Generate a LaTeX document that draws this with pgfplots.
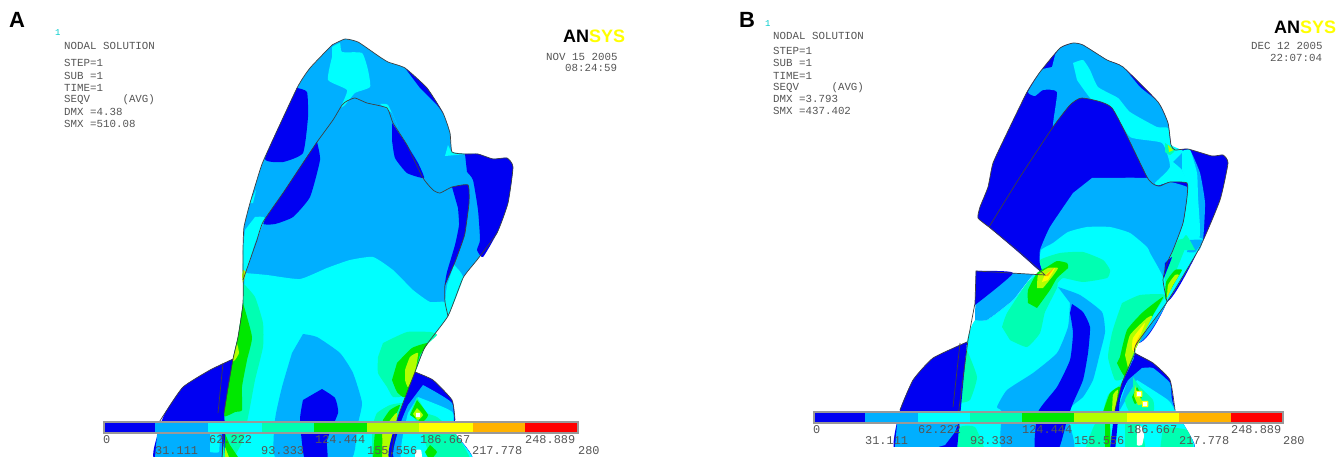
\documentclass[border=0pt]{standalone}
\usepackage{fontspec}
\setmainfont{Liberation Sans}
\newfontfamily\mono{Liberation Mono}
\usepackage{pgfplots}
\pgfplotsset{compat=1.18}
\definecolor{c0}{RGB}{0,0,242}
\definecolor{c1}{RGB}{0,175,255}
\definecolor{c2}{RGB}{0,255,255}
\definecolor{c3}{RGB}{0,255,178}
\definecolor{c4}{RGB}{0,232,0}
\definecolor{c5}{RGB}{178,255,0}
\definecolor{c6}{RGB}{255,255,0}
\definecolor{c7}{RGB}{255,178,0}
\definecolor{c8}{RGB}{255,0,0}
\definecolor{txt}{RGB}{85,85,85}
\newcommand{\R}[2]{\addplot[fill=#1,draw=none,forget plot,smooth,tension=0.3] coordinates {#2} -- cycle;}
\newcommand{\Q}[2]{\addplot[fill=#1,draw=none,forget plot] coordinates {#2} -- cycle;}
\newcommand{\Ln}[1]{\addplot[draw=black!75,line width=0.7pt,forget plot,smooth,tension=0.3] coordinates {#1};}
\newcommand{\T}[3]{\node[anchor=west,inner sep=0pt,text=txt,font=\mono\fontsize{10.8}{12}\selectfont] at (axis cs:#1,#2) {#3};}
\newcommand{\B}[3]{\node[anchor=west,inner sep=0pt,text=txt,font=\mono\fontsize{11.9}{12}\selectfont] at (axis cs:#1,#2) {#3};}
\begin{document}
\begin{tikzpicture}
\useasboundingbox (0,0) rectangle (1338pt,460pt);
\begin{axis}[scale only axis,width=1338pt,height=460pt,xmin=0,xmax=1338,ymin=0,ymax=460,y dir=reverse,axis lines=none,clip=true]
% ===== PANEL A =====
\R{c1}{(332,45)(345,39)(358,42)(377,55)(388,62)(405,68)(427,88)(443,113)(450,133)(452,152)(465,154)(478,154)(493,159)(507,158)(513,167)(508,203)(497,233)(477,260)(463,278)(448,316)(425,347)(415,372)(390,460)(222,460)(233,359)(238,337)(243,303)(243,250)(244,227)(250,203)(260,170)(265,157)(297,88)(310,68)}
% crown blue zones
\R{c0}{(297,88)(307,92)(308,117)(303,153)(283,162)(265,159)(282,120)}
\R{c0}{(405,68)(427,88)(443,113)(437,105)(420,88)}
\R{c0}{(317,142)(320,160)(310,197)(293,217)(275,224)(263,223)(283,193)(300,167)}
\R{c0}{(392,123)(407,145)(418,163)(424,178)(407,173)(395,158)(392,140)}
\R{c0}{(452,187)(468,185)(469,203)(465,233)(462,243)(455,262)(445,285)(447,272)(455,245)(459,225)(458,208)}
\R{c0}{(465,154)(478,154)(493,159)(507,158)(513,167)(508,203)(497,233)(483,257)(477,250)(480,240)(478,210)(473,180)(467,172)}
% crown cyan zones
\R{c2}{(332,47)(340,43)(342,52)(362,53)(368,70)(370,87)(355,93)(345,105)(341,107)(347,90)(328,80)(332,57)}
\R{c2}{(380,104)(388,105)(398,127)(392,113)}
\R{c2}{(448,145)(452,152)(465,154)(445,156)}
\R{c2}{(255,217)(265,218)(255,243)(250,260)(243,280)(243,250)(245,230)}
\R{c2}{(250,203)(256,190)(253,203)}
\R{c2}{(454,265)(463,278)(448,316)(445,302)(447,285)}
% neck
\R{c2}{(245,273)(267,275)(300,279)(327,268)(350,260)(373,257)(393,270)(413,290)(430,302)(445,302)(448,316)(425,347)(415,373)(398,417)(390,460)(222,460)(224,413)(228,387)(233,359)(238,337)(243,303)}
\R{c3}{(243,283)(255,297)(263,323)(263,347)(255,380)(250,407)(243,440)(232,460)(222,460)(224,413)(228,387)(233,359)(238,337)(243,303)}
\R{c4}{(243,303)(252,337)(247,360)(242,387)(242,410)(235,412)(224,416)(228,387)(233,359)(238,337)}
\R{c5}{(237,343)(239,353)(235,360)(232,362)}
\R{c5}{(243,270)(246,272)(243,283)(242,275)}
\R{c4}{(222,460)(224,433)(230,445)(240,460)}
\R{c5}{(223,460)(224,445)(230,460)}
% neck lobes
\R{c1}{(303,334)(317,337)(340,353)(353,373)(362,403)(357,427)(350,460)(277,460)(275,420)(282,387)(292,353)}
\R{c0}{(322,389)(335,398)(338,413)(327,440)(327,460)(305,460)(300,420)(303,400)}
% right stress zone
\R{c3}{(383,343)(407,332)(430,332)(437,335)(425,347)(415,372)(405,395)(393,397)(387,387)(378,373)(378,357)}
\R{c4}{(397,363)(412,348)(428,343)(420,355)(415,372)(405,397)(397,392)(392,380)}
\R{c5}{(405,370)(410,357)(418,353)(415,372)(408,387)(405,380)}
\R{c3}{(372,427)(377,413)(390,405)(403,403)(400,410)(390,460)(372,460)}
\R{c4}{(383,420)(390,410)(400,405)(393,420)(382,430)}
\R{c5}{(382,460)(382,433)(397,413)(390,460)}
\R{c4}{(373,460)(375,433)(382,433)(382,460)}
% shoulder left
\R{c0}{(233,359)(210,370)(183,387)(165,413)(158,433)(155,460)(222,460)(224,413)}
\Q{c1}{(155,457)(158,424)(222,424)(222,457)}
\R{c2}{(210,433)(219,433)(219,452)(210,452)}
\R{c3}{(222,460)(224,440)(225,460)}
% shoulder right
\R{c0}{(415,372)(433,380)(452,400)(455,420)(455,433)(472,460)(390,460)(398,417)}
\R{c1}{(423,385)(452,403)(455,433)(472,460)(395,460)(400,425)(408,405)}
\R{c2}{(418,397)(443,407)(453,413)(455,433)(472,460)(402,460)(408,413)}
\R{c3}{(417,397)(427,413)(437,417)(455,433)(470,460)(433,460)(420,427)(410,413)}
\R{c4}{(417,400)(428,415)(422,422)(410,415)}
\R{c5}{(417,408)(423,415)(418,420)(413,414)}
\R{white}{(416,413)(420,413)(420,417)(416,417)}
\R{white}{(415,450)(421,450)(422,460)(415,460)}
\R{c4}{(430,445)(437,452)(430,460)(425,452)}
% mask below the cut edge of panel A
\Q{white}{(140,457)(600,457)(600,460)(140,460)}
% outlines A
\Ln{(332,45)(345,39)(358,42)(377,55)(388,62)(405,68)(427,88)(443,113)(450,133)(452,152)(465,154)(478,154)(493,159)(507,158)(513,167)(508,203)(497,233)(477,260)(463,278)(448,316)(425,347)(415,372)}
\Ln{(332,45)(310,68)(297,88)(265,157)(260,170)(250,203)(244,227)(243,250)(243,303)(238,337)(233,359)(228,387)(224,413)}
\Ln{(233,359)(210,370)(183,387)(165,413)(158,424)}
\Ln{(415,372)(433,380)(452,400)(455,420)}
\Ln{(257,240)(263,222)(283,193)(303,163)(317,142)(333,120)(342,105)(347,101)(355,98)(367,103)(387,108)(393,123)(407,145)(423,178)(433,190)(440,193)(452,187)(468,185)(469,203)(465,233)(462,243)(455,262)(445,285)(445,302)(448,316)}
\Ln{(257,240)(250,260)(243,280)}
\Ln{(223,363)(218,413)}
\Ln{(222,457)(224,434)}
\Ln{(415,372)(398,417)(391,457)}
% colour bar A
\Q{black!40}{(103,421)(579,421)(579,434)(103,434)}
\Q{c0}{(105,423)(155,423)(155,432)(105,432)}
\Q{c1}{(155,423)(208,423)(208,432)(155,432)}
\Q{c2}{(208,423)(262,423)(262,432)(208,432)}
\Q{c3}{(262,423)(314,423)(314,432)(262,432)}
\Q{c4}{(314,423)(367,423)(367,432)(314,432)}
\Q{c5}{(367,423)(419,423)(419,432)(367,432)}
\Q{c6}{(419,423)(473,423)(473,432)(419,432)}
\Q{c7}{(473,423)(525,423)(525,432)(473,432)}
\Q{c8}{(525,423)(577,423)(577,432)(525,432)}
% ===== PANEL B =====
% crown
\R{c0}{(989,227)(978,218)(980,207)(988,187)(993,163)(1007,133)(1027,92)(1040,72)(1060,48)(1073,43)(1083,45)(1107,60)(1123,67)(1158,102)(1168,123)(1171,145)(1175,150)(1188,149)(1212,156)(1223,155)(1228,163)(1220,200)(1200,247)(1167,302)(1100,300)(1045,275)(1017,250)}
\R{c1}{(1055,55)(1060,48)(1073,43)(1083,45)(1107,60)(1123,67)(1140,87)(1158,102)(1168,123)(1171,145)(1183,151)(1190,150)(1200,173)(1205,203)(1203,240)(1197,250)(1187,183)(1170,182)(1155,185)(1147,177)(1112,108)(1082,98)(1070,105)(1053,127)(1057,92)(1043,90)(1035,96)(1028,92)(1040,72)(1043,69)(1052,67)}
\R{c2}{(1073,63)(1083,60)(1090,70)(1098,87)(1118,98)(1130,112)(1157,127)(1168,128)(1171,145)(1183,151)(1173,162)(1173,170)(1160,185)(1155,183)(1170,167)(1162,143)(1130,137)(1112,108)(1092,100)(1077,80)}
\R{c2}{(1173,162)(1182,170)(1187,183)(1170,182)(1160,185)}
\R{c2}{(1182,151)(1190,150)(1197,173)(1198,197)(1200,230)(1197,250)(1173,250)(1183,223)(1187,197)(1187,183)(1182,170)}
\R{c3}{(1165,143)(1175,150)(1170,155)(1165,152)}
\R{c5}{(1168,145)(1173,150)(1169,152)}
% body
\R{c0}{(989,227)(1020,177)(1053,127)(1070,105)(1082,98)(1112,108)(1147,177)(1155,185)(1160,186)(1170,182)(1187,183)(1187,197)(1183,223)(1173,250)(1167,263)(1163,280)(1167,302)(1137,343)(1045,275)}
\R{c1}{(1092,178)(1147,178)(1155,185)(1160,186)(1170,182)(1187,187)(1187,197)(1183,223)(1173,250)(1167,263)(1163,280)(1167,302)(1137,343)(1060,290)(1045,275)(1040,263)(1040,250)(1050,227)(1073,193)}
\R{c2}{(1045,275)(1040,263)(1041,250)(1053,243)(1068,232)(1087,227)(1110,227)(1130,233)(1147,247)(1150,253)(1163,277)(1167,302)(1137,343)(1135,353)(1110,450)(957,450)(967,342)(975,320)(987,320)(1013,300)(1033,275)}
% left wedge
\R{c1}{(976,271)(1045,275)(1033,275)(1013,300)(987,320)(975,320)}
\R{c0}{(976,271)(1013,273)(975,305)}
% side strip
\R{c2}{(1178,240)(1203,240)(1167,302)(1163,280)(1167,263)}
\R{c1}{(1190,240)(1203,240)(1195,252)(1187,252)}
\R{c3}{(1178,240)(1188,240)(1170,285)(1165,280)(1168,262)}
\R{c4}{(1165,300)(1166,282)(1175,270)(1182,270)(1175,282)}
\R{c5}{(1167,298)(1168,285)(1175,275)(1179,275)(1173,285)}
\R{c0}{(1165,263)(1172,257)(1167,270)(1164,278)}
\R{c3}{(1177,250)(1186,235)(1195,250)}
% blobs
\R{c3}{(1043,273)(1040,260)(1060,253)(1083,252)(1103,260)(1110,270)(1107,278)(1083,282)(1063,278)(1057,283)(1045,275)}
\R{c3}{(1002,327)(1007,313)(1027,283)(1037,275)(1045,275)(1057,278)(1057,288)(1045,312)(1040,333)(1027,347)(1010,340)}
\R{c4}{(1028,303)(1028,290)(1037,273)(1047,267)(1057,261)(1067,263)(1068,268)(1057,278)(1050,290)(1037,308)}
\R{c5}{(1037,288)(1038,275)(1048,268)(1058,268)(1052,277)(1043,288)}
\R{c6}{(1042,282)(1045,275)(1055,268)(1048,280)}
\R{c7}{(1045,276)(1054,268)(1048,276)}
% streak
\R{c1}{(1058,287)(1080,295)(1102,312)(1105,332)(1100,353)(1093,380)(1083,397)(1067,412)(1073,450)(1003,450)(1002,412)(997,407)(1007,390)(1033,373)(1057,353)(1068,327)(1070,303)}
\R{c0}{(1072,304)(1083,312)(1090,327)(1088,353)(1083,380)(1073,403)(1067,420)(1058,450)(1035,450)(1038,412)(1057,387)(1070,360)(1073,333)(1070,313)}
% left edge
\R{c3}{(967,350)(977,377)(970,400)(960,403)}
\R{c3}{(957,450)(960,427)(975,427)(985,450)}
% right stress
\R{c3}{(1122,303)(1140,295)(1165,295)(1153,315)(1135,350)(1125,377)(1115,380)(1108,357)(1112,333)(1117,317)}
\R{c4}{(1120,357)(1127,330)(1143,312)(1163,297)(1153,315)(1135,350)(1125,376)(1117,363)}
\R{c5}{(1125,355)(1130,335)(1147,318)(1152,317)(1135,350)(1128,368)}
\R{c6}{(1132,350)(1133,338)(1145,323)(1137,343)(1135,352)}
\R{c7}{(1135,345)(1140,335)(1137,343)}
\R{c3}{(1103,412)(1108,395)(1120,385)(1125,382)(1115,412)}
\R{c4}{(1103,412)(1110,393)(1120,387)(1115,412)}
\R{c5}{(1112,412)(1113,395)(1118,390)(1115,412)}
\R{c3}{(1085,450)(1095,424)(1108,424)(1110,450)}
\R{c4}{(1105,424)(1110,424)(1110,450)(1105,450)}
% shoulder left
\R{c0}{(967,342)(933,358)(913,380)(900,410)(895,450)(957,450)}
\Q{c1}{(895,447)(897,424)(958,424)(955,432)(945,445)(938,447)}
% shoulder right
\R{c0}{(1135,353)(1153,363)(1170,380)(1175,410)(1187,430)(1193,450)(1110,450)}
\R{c1}{(1142,368)(1153,368)(1170,383)(1172,400)(1180,425)(1193,450)(1115,450)(1118,410)(1128,380)}
\R{c2}{(1137,380)(1168,400)(1176,412)(1187,430)(1193,450)(1117,450)(1120,410)}
\R{c3}{(1133,377)(1140,387)(1153,400)(1153,412)(1130,412)(1125,400)(1133,387)}
\R{c4}{(1137,387)(1142,397)(1135,404)(1132,397)}
\R{c3}{(1163,427)(1187,430)(1193,450)(1160,450)}
\R{c3}{(1125,424)(1140,424)(1145,450)(1125,450)}
\R{c5}{(1135,385)(1137,392)(1143,403)(1138,405)(1134,396)}
% holes
\R{white}{(1137,426)(1141,426)(1144,435)(1142,445)(1137,445)(1137,435)}
\R{c6}{(1136,391)(1142,391)(1142,397)(1136,397)}
\R{white}{(1137,392)(1141,392)(1141,396)(1137,396)}
\R{c6}{(1142,401)(1148,401)(1148,407)(1142,407)}
\R{white}{(1143,402)(1147,402)(1147,406)(1143,406)}
% strip
\R{c0}{(1133,360)(1145,360)(1128,380)(1120,400)(1115,450)(1110,450)(1115,410)(1122,383)}
% mask below the cut edge of panel B
\Q{white}{(880,447)(1210,447)(1210,460)(880,460)}
% outlines B
\Ln{(989,227)(978,218)(980,207)(988,187)(993,163)(1007,133)(1027,92)(1040,72)(1060,48)(1073,43)(1083,45)(1107,60)(1123,67)(1158,102)(1168,123)(1171,145)(1175,150)(1188,149)(1212,156)(1223,155)(1228,163)(1220,200)(1200,247)(1167,302)(1137,343)(1135,353)(1153,363)(1170,380)(1175,410)}
\addplot[draw=black!75,line width=0.7pt,forget plot] coordinates {(989,227)(1017,250)(1045,275)(976,271)(975,303)(968,340)(957,424)};
\Ln{(967,342)(933,358)(913,380)(900,410)}
\Ln{(989,227)(1020,177)(1053,127)(1070,105)(1082,98)(1112,108)(1147,177)(1155,185)(1160,186)(1170,182)(1187,183)(1187,197)(1183,223)(1173,250)(1167,263)(1163,280)(1167,302)}
\Ln{(960,343)(953,407)}
\Ln{(1135,353)(1122,383)(1115,410)}
% colour bar B
\Q{black!40}{(813,411)(1284,411)(1284,424)(813,424)}
\Q{c0}{(815,413)(865,413)(865,422)(815,422)}
\Q{c1}{(865,413)(918,413)(918,422)(865,422)}
\Q{c2}{(918,413)(970,413)(970,422)(918,422)}
\Q{c3}{(970,413)(1022,413)(1022,422)(970,422)}
\Q{c4}{(1022,413)(1074,413)(1074,422)(1022,422)}
\Q{c5}{(1074,413)(1127,413)(1127,422)(1074,422)}
\Q{c6}{(1127,413)(1179,413)(1179,422)(1127,422)}
\Q{c7}{(1179,413)(1231,413)(1231,422)(1179,422)}
\Q{c8}{(1231,413)(1282,413)(1282,422)(1231,422)}
% ===== TEXT =====
\node[anchor=base west,inner sep=0pt,font=\fontsize{22}{24}\selectfont\bfseries] at (axis cs:9,28) {A};
\node[anchor=base west,inner sep=0pt,font=\fontsize{22}{24}\selectfont\bfseries] at (axis cs:739,28) {B};
\node[anchor=west,inner sep=0pt,text=c2!80!black,font=\mono\fontsize{9}{10}\selectfont] at (axis cs:55,33) {1};
\node[anchor=west,inner sep=0pt,text=c2!80!black,font=\mono\fontsize{9}{10}\selectfont] at (axis cs:765,24) {1};
\T{64}{46}{NODAL SOLUTION}
\T{64}{63}{STEP=1}
\T{64}{76}{SUB =1}
\T{64}{88}{TIME=1}
\T{64}{100}{SEQV~~~~~(AVG)}
\T{64}{112}{DMX =4.38}
\T{64}{124}{SMX =510.08}
\T{546}{57}{NOV 15 2005}
\T{565}{68}{08:24:59}
\T{773}{36}{NODAL SOLUTION}
\T{773}{51}{STEP=1}
\T{773}{63}{SUB =1}
\T{773}{76}{TIME=1}
\T{773}{88}{SEQV~~~~~(AVG)}
\T{773}{99}{DMX =3.793}
\T{773}{111}{SMX =437.402}
\T{1251}{46}{DEC 12 2005}
\T{1270}{58}{22:07:04}
\node[anchor=base west,inner sep=0pt,font=\fontsize{18}{20}\selectfont\bfseries] at (axis cs:563,43) {AN\textcolor{c6}{SYS}};
\node[anchor=base west,inner sep=0pt,font=\fontsize{18}{20}\selectfont\bfseries] at (axis cs:1274,34) {AN\textcolor{c6}{SYS}};
\B{103}{440}{0}\B{209}{440}{62.222}\B{315}{440}{124.444}\B{420}{440}{186.667}\B{525}{440}{248.889}
\B{155}{451}{31.111}\B{261}{451}{93.333}\B{367}{451}{155.556}\B{472}{451}{217.778}\B{578}{451}{280}
\B{813}{430}{0}\B{918}{430}{62.222}\B{1022}{430}{124.444}\B{1127}{430}{186.667}\B{1231}{430}{248.889}
\B{865}{441}{31.111}\B{970}{441}{93.333}\B{1074}{441}{155.556}\B{1179}{441}{217.778}\B{1283}{441}{280}
\end{axis}
\end{tikzpicture}
\end{document}
